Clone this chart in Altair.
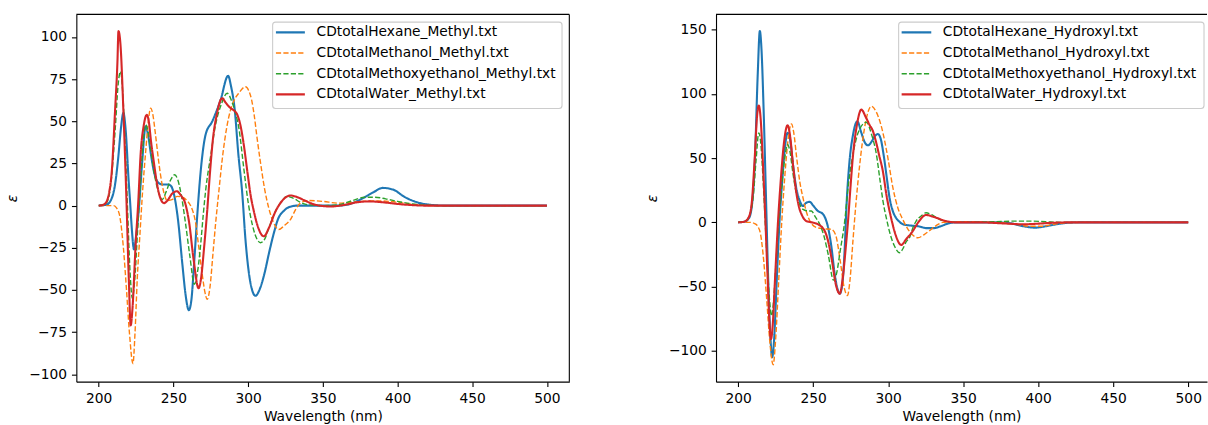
import altair as alt
import pandas as pd

FONT = "DejaVu Sans"
FS = 13.8

SERIES_METHYL = ["CDtotalHexane_Methyl.txt", "CDtotalMethanol_Methyl.txt",
                 "CDtotalMethoxyethanol_Methyl.txt", "CDtotalWater_Methyl.txt"]
SERIES_HYDROXYL = ["CDtotalHexane_Hydroxyl.txt", "CDtotalMethanol_Hydroxyl.txt",
                   "CDtotalMethoxyethanol_Hydroxyl.txt", "CDtotalWater_Hydroxyl.txt"]
COLORS = ["#1f77b4", "#ff7f0e", "#2ca02c", "#d62728"]
DASHES = [[1, 0], [5.2, 2.25], [5.2, 2.25], [1, 0]]
WIDTHS = [2.1, 1.4, 1.4, 2.1]

X_TICKS = [200, 250, 300, 350, 400, 450, 500]
Y_TICKS_METHYL = [-100, -75, -50, -25, 0, 25, 50, 75, 100]
Y_TICKS_HYDROXYL = [-100, -50, 0, 50, 100, 150]

# ---------------- Methyl panel ----------------
HEX_ME_WL = [200, 205, 208, 211, 213, 215, 216.5, 218, 220, 221, 222, 223.6, 225, 227, 229,
             231.4, 233, 235, 237, 240, 243, 246, 248, 250, 253, 256, 258, 260.3, 262, 264,
             266, 268.2, 271.5, 276, 281.5, 286.6, 288.5, 291, 293.5, 296, 298.2, 301.6, 304.9,
             308, 311, 314, 317, 320, 324, 328, 333, 345, 360, 368, 376, 384, 390, 397, 405,
             413, 422, 432, 500]
HEX_ME_EPS = [0, 0.5, 3, 13, 28, 47, 55, 45, 15, 2, -12, -26, -18, 0, 25,
              47, 42, 30, 20, 13.5, 12.5, 12.5, 12, 8, -8, -35, -52, -62, -56, -32,
              -5, 20, 42, 50, 62.5, 77, 71, 57, 30, 8, -20, -46, -53.5,
              -49, -40, -28, -17, -8, -3, -0.7, 0, 0, 0, 1, 4, 8, 10.5, 9.5, 5,
              2, 0.5, 0, 0]

MTH_ME_WL = [200, 210, 212, 214, 216.5, 218.5, 220.5, 222.9, 224.3, 225.8, 227.5, 229.2, 231.5,
             233.2, 234.7, 236, 238, 240, 241.4, 243.5, 245.9, 249, 252.6, 256, 259, 262, 264.8,
             267, 269.3, 271, 272.6, 274.5, 276.5, 278.5, 280.4, 283, 286, 288, 290.4, 294,
             298.2, 300.5, 302.5, 304, 306, 308.2, 311, 313.8, 317, 320.5, 324, 328.3, 332, 335,
             340, 350, 360, 370, 380, 390, 400, 408, 415, 425, 500]
MTH_ME_EPS = [0, 0, -1.5, -6, -25, -49, -75, -93.7, -75, -43, -18, 6.5, 33,
              50, 57.8, 55, 42, 27, 18, 8, 3, 3.5, 5.5, 5, 3, -1, -10,
              -25, -41, -51, -55.6, -48, -28, -8, 8.5, 30, 48, 56, 62, 67,
              70.5, 68, 62, 54, 40, 26, 10, -1.4, -10, -14.2, -12, -8.3, -2, 1.5,
              3, 2.5, 1.5, 2, 2.7, 2.7, 2, 1, 0.3, 0, 0]

MEO_ME_WL = [200, 205, 208, 211, 213, 214.5, 216, 217.5, 219, 221, 222.5, 224, 226, 228, 230,
             231.4, 233, 235, 237, 240, 242.5, 245, 248, 250.8, 253, 255.5, 258, 261, 264, 266,
             268, 270, 271.5, 275, 278.2, 282, 286, 289, 291.5, 293.8, 297.1, 300, 303, 306,
             308.2, 311, 314, 317, 319.4, 322, 326, 330, 335, 340, 350, 360, 370, 378, 385,
             392, 400, 410, 420, 430, 500]
MEO_ME_EPS = [0, 1.5, 12, 45, 72, 79.5, 68, 40, 5, -40, -55, -45, -15, 15, 40,
              48, 44, 32, 20, 8, 3.6, 8, 15, 18.3, 15, 5, -10, -30, -46.7, -40,
              -25, -5, 8.5, 30, 48, 60, 66.6, 62, 55, 46, 22, 2, -12, -20,
              -22, -20, -13, -6, -1.4, 2, 5.5, 4.5, 2, 0.5, 0, 0.5, 3, 5, 5,
              4, 2.5, 1, 0.3, 0, 0]

WAT_ME_WL = [200, 203, 205, 207, 208.7, 210.9, 212.5, 213.2, 214.5, 216.5, 218.5, 220.1, 221.4,
             222.5, 224.7, 226.5, 228, 230.2, 232.1, 233.5, 235, 237, 239, 241, 243.6, 246, 249,
             252.3, 255, 258, 260.5, 263.5, 266.8, 268.5, 270.5, 272.6, 274.5, 276.5, 279, 282.6,
             285, 288, 290.4, 292.7, 295, 297.1, 299.5, 301.6, 304, 306, 310.5, 314, 318, 322,
             328.3, 333, 338, 345, 355, 365, 373, 381, 390, 400, 410, 420, 500]
WAT_ME_EPS = [0, 0.5, 2, 8, 20, 56, 85, 103.5, 96, 56, 4.5, -43, -71,
              -62, -23, 3, 30, 48, 53.8, 50, 38, 25, 13, 5, 1.5, 3, 7,
              8.5, 6, 1, -10, -32, -49, -43, -25, -3, 20, 40, 54, 63.7,
              61, 58, 56.5, 54, 47, 36, 20, 6.5, -4, -11, -18.2, -13, -4, 2,
              6, 5, 3, 0.5, -0.5, 0.5, 2, 2.5, 2, 1, 0.3, 0, 0]

# ---------------- Hydroxyl panel ----------------
HEX_OH_WL = [200, 204, 207, 209, 211, 213, 214.4, 215.5, 217, 218.5, 220, 221.5, 222.6, 224,
             225.5, 227.5, 229.5, 231.5, 232.9, 234.5, 236.5, 238.5, 241, 243.2, 245, 247.7,
             250, 253, 256.6, 259.9, 262, 264.3, 267.7, 269.5, 271, 272.1, 274, 276.5, 279.4,
             282, 284.5, 286.5, 289, 291, 293.1, 295, 297, 299, 300.9, 303, 305.5, 307.5,
             309.8, 315, 320, 326, 330, 335, 340, 345, 370, 380, 390, 398, 405, 412, 420,
             430, 500]
HEX_OH_EPS = [0, 0.5, 3, 12, 45, 115, 149, 135, 85, 20, -45, -90, -105, -90,
              -50, 0, 35, 62, 69.7, 65, 45, 28, 17, 12.7, 15, 16,
              13, 9, 6.3, -4, -18, -40, -55.5, -47, -20, 11, 45, 68, 78.7,
              70, 62, 60, 63, 67, 68.8, 65, 52, 35, 19, 9, 3, 0.5,
              -1.5, -2.5, -3, -4.5, -4.5, -3, -0.8, 0, 0, -0.5, -3, -4.1, -3, -1.5, -0.3,
              0, 0]

MTH_OH_WL = [200, 208, 211, 213, 215, 217, 219, 221, 223.3, 225, 227, 229, 231, 233, 235.5,
             237, 239, 241, 243.2, 245.5, 247.7, 252.2, 257, 262, 265, 268, 270.5, 272.8,
             274.5, 276.5, 278.5, 281, 284, 288.8, 292, 296, 299.8, 303.1, 306.5, 309.8, 313,
             316.5, 319.7, 324, 328, 332, 336.4, 345, 370, 385, 395, 403, 410, 418, 430, 500]
MTH_OH_EPS = [0, 0, -1, -3, -10, -30, -60, -92, -110.8, -90, -45, 0, 35, 62, 76.7,
              70, 50, 32, 19, 8, 1.2, -4, -5, -5.4, -10, -30, -50, -57,
              -45, -14, 15, 45, 72, 90.4, 86, 72, 50, 27, 11, 2, -5,
              -10, -12, -9.5, -6, -2.5, 0, 0.5, 0, -1.5, -3, -3, -1.5, -0.3, 0, 0]

MEO_OH_WL = [200, 205, 208, 210, 212, 213.7, 215, 216.5, 218, 219.5, 221, 222.2, 223.5, 225,
             227, 229, 231, 232.9, 234.5, 236.5, 238.5, 241, 243.2, 246, 248.8, 251.5, 254.4,
             257, 260, 263.5, 265.5, 268, 271, 273.5, 276.5, 280, 285.4, 289, 292.1, 294.5,
             296.5, 299, 301.5, 304, 307.6, 310, 312, 314.2, 316.5, 318.6, 322, 325.2, 329,
             334.1, 340, 345, 370, 385, 395, 405, 415, 500]
MEO_OH_EPS = [0, 1, 7, 20, 50, 69.7, 62, 35, 0, -35, -62, -72.8, -62, -35,
              0, 28, 50, 60.6, 55, 38, 24, 14, 10.1, 9, 8.8, 4, -1.6,
              -10, -25, -45, -40, -22, 1, 30, 53, 70, 78, 68, 53, 33,
              16.6, 2, -10, -18, -23.6, -20, -15, -11.9, -4, 1, 5, 7.5, 6,
              2.3, 0.5, 0, 0.5, 1, 1, 0.5, 0, 0]

WAT_OH_WL = [200, 204, 207, 209, 211, 212.5, 213.7, 215, 216.5, 218, 219.5, 220.8, 221.8, 223,
             224.5, 226.5, 228.5, 230.5, 232.9, 234.5, 236.5, 238.5, 240.5, 242.2, 245.5, 249,
             253.3, 257.7, 260, 262.5, 265, 267.7, 269.5, 271.5, 273.2, 275, 276.5, 279, 282.1,
             285, 287.5, 289.8, 292, 294, 296.4, 299, 301.9, 305, 308.6, 312, 316.4, 320, 325.2,
             331, 338.5, 345, 360, 380, 390, 400, 410, 420, 500]
WAT_OH_EPS = [0, 0.5, 4, 15, 50, 82, 91, 80, 45, 5, -40, -78, -91, -80,
              -45, 0, 35, 62, 75.6, 68, 45, 25, 12, 6.3, 1, 0,
              -1.6, -6.8, -15, -30, -48, -55.5, -45, -22, 1, 30, 52, 75, 87.8,
              82, 76, 71, 62, 52, 40, 20, 3.6, -10, -17.6, -13, -6.7, 0, 5.7,
              4, 1, 0, 0, -1, -1.5, -1, -0.3, 0, 0]

METHYL_DATA = [(HEX_ME_WL, HEX_ME_EPS), (MTH_ME_WL, MTH_ME_EPS),
               (MEO_ME_WL, MEO_ME_EPS), (WAT_ME_WL, WAT_ME_EPS)]
HYDROXYL_DATA = [(HEX_OH_WL, HEX_OH_EPS), (MTH_OH_WL, MTH_OH_EPS),
                 (MEO_OH_WL, MEO_OH_EPS), (WAT_OH_WL, WAT_OH_EPS)]

PANEL_H = 368


def panel(names, data, x_domain, y_domain, y_ticks, width, box, sample, text_x, right_spine):
    rows = []
    for name, (wl, eps) in zip(names, data):
        assert len(wl) == len(eps), name
        for w, e in zip(wl, eps):
            rows.append({"series": name, "wl": w, "eps": e})
    df = pd.DataFrame(rows)

    color = alt.Color("series:N", scale=alt.Scale(domain=names, range=COLORS), legend=None)
    dash = alt.StrokeDash("series:N", scale=alt.Scale(domain=names, range=DASHES), legend=None)
    sw = alt.StrokeWidth("series:N", scale=alt.Scale(type="ordinal", domain=names, range=WIDTHS),
                         legend=None)

    lines = alt.Chart(df).mark_line(interpolate="monotone", clip=True).encode(
        x=alt.X("wl:Q", scale=alt.Scale(domain=x_domain, nice=False, zero=False),
                axis=alt.Axis(values=X_TICKS, title="Wavelength (nm)")),
        y=alt.Y("eps:Q", scale=alt.Scale(domain=y_domain, nice=False, zero=False),
                axis=alt.Axis(values=y_ticks, title="ε")),
        color=color, strokeDash=dash, strokeWidth=sw,
    )

    one = pd.DataFrame({"k": [0]})
    leg = pd.DataFrame({"series": names, "row": list(range(len(names)))})
    row_y = alt.Y("row:Q", scale=alt.Scale(domain=[0, 1], range=[18, 38.7]), axis=None)

    frame = alt.Chart(one).mark_rect(fill="white", fillOpacity=0.8, stroke="#cccccc",
                                     strokeWidth=1.1, cornerRadius=3).encode(
        x=alt.value(box[0]), x2=alt.value(box[1]), y=alt.value(box[2]), y2=alt.value(box[3]))
    samples = alt.Chart(leg).mark_rule().encode(
        x=alt.value(sample[0]), x2=alt.value(sample[1]), y=row_y,
        color=color, strokeDash=dash, strokeWidth=sw)
    labels = alt.Chart(leg).mark_text(align="left", baseline="middle", font=FONT,
                                      fontSize=FS, color="black").encode(
        x=alt.value(text_x), y=row_y, text="series:N")

    top = alt.Chart(one).mark_rule(color="black", strokeWidth=1.1).encode(
        x=alt.value(0), x2=alt.value(width), y=alt.value(0))
    layers = [lines, frame, samples, labels, top]
    if right_spine:
        layers.append(alt.Chart(one).mark_rule(color="black", strokeWidth=1.1).encode(
            x=alt.value(width), y=alt.value(0), y2=alt.value(PANEL_H)))
    return alt.layer(*layers).resolve_scale(y="independent").properties(
        width=width, height=PANEL_H)


left = panel(SERIES_METHYL, METHYL_DATA, [185, 515], [-104.4, 113.4], Y_TICKS_METHYL, 494,
             box=(196.7, 486.7, 7.7, 94.3), sample=(200, 229), text_x=240.7, right_spine=True)
right = panel(SERIES_HYDROXYL, HYDROXYL_DATA, [185.2, 512.5], [-124, 161.9], Y_TICKS_HYDROXYL,
              492, box=(183, 489, 7.7, 94.3), sample=(186, 215.7), text_x=227.3,
              right_spine=False)

chart = alt.hconcat(left, right, spacing=75).properties(
    padding={"left": 5.5, "top": 13, "right": 0, "bottom": 0},
    background="white",
).configure_view(stroke=None).configure_axis(
    domainColor="black", domainWidth=1.1, tickColor="black", tickWidth=1.1, tickSize=4.9,
    labelPadding=4.9, labelFont=FONT, labelFontSize=FS, labelColor="black",
    titleFont=FONT, titleFontSize=FS, titleFontWeight="normal", titleColor="black", grid=False,
).configure_axisY(titlePadding=9, titleFontStyle="italic").configure_axisX(titlePadding=4)

chart.save("out.html", embed_options={"renderer": "svg", "actions": False})
